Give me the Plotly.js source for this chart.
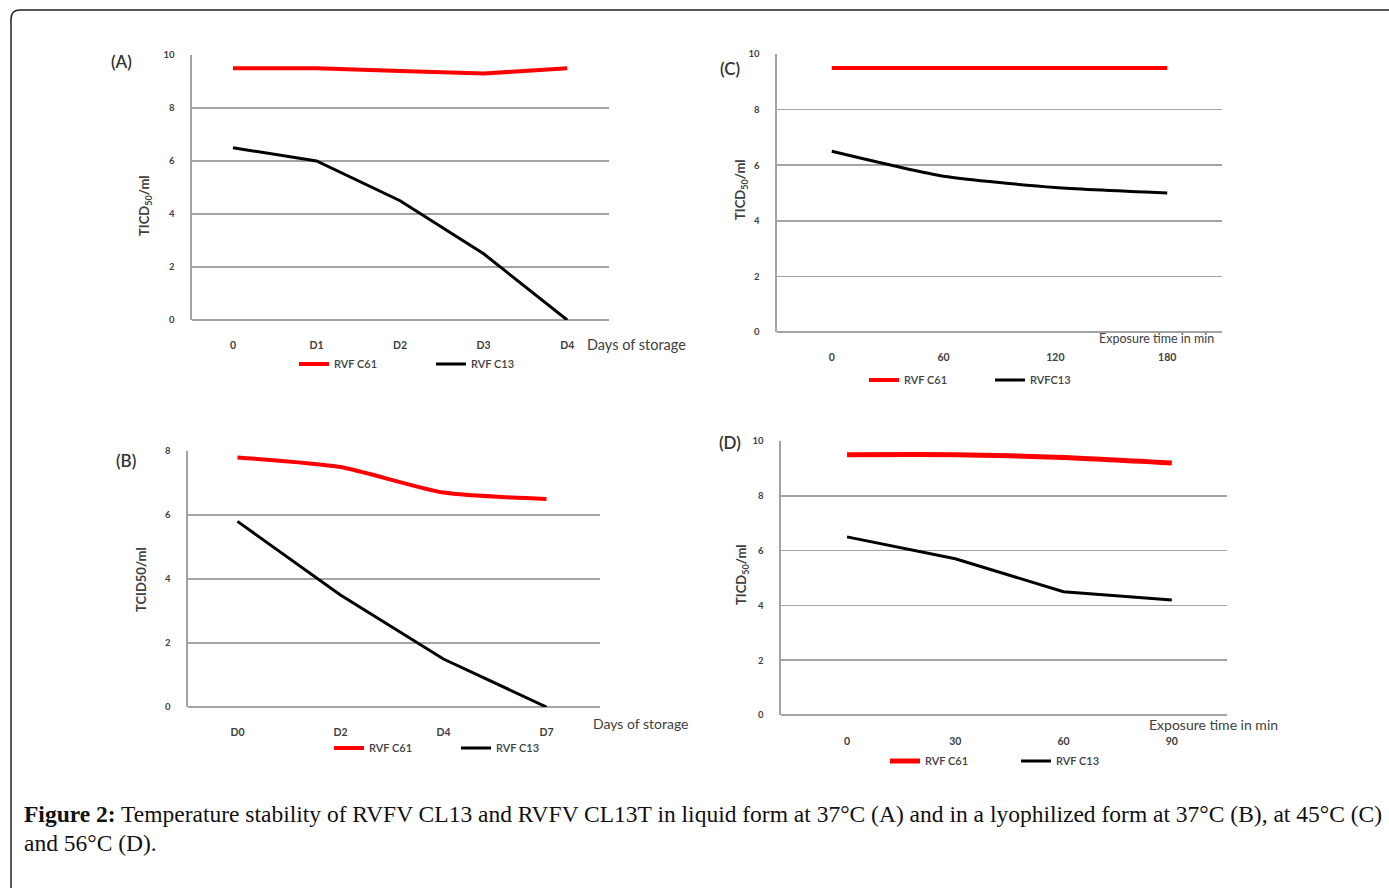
<!DOCTYPE html>
<html><head><meta charset="utf-8">
<script src="https://cdn.plot.ly/plotly-3.0.1.min.js"></script>
<style>body{margin:0;background:#fff}#chart{width:1389px;height:888px}</style>
</head><body><div id="chart"></div>
<script>
// ---- data ----
const catsA = ['0','D1','D2','D3','D4'];
const a_c61 = [9.5,9.5,9.4,9.3,9.5];
const a_c13 = [6.5,6.0,4.5,2.5,0];
const catsB = ['D0','D2','D4','D7'];
const b_c61 = [7.8,7.5,6.7,6.5];
const b_c13 = [5.8,3.5,1.5,0];
const catsC = ['0','60','120','180'];
const c_c61 = [9.5,9.5,9.5,9.5];
const c_c13 = [6.5,5.6,5.2,5.0];
const catsD = ['0','30','60','90'];
const d_c61 = [9.5,9.5,9.4,9.2];
const d_c13 = [6.5,5.7,4.5,4.2];
const nameA1 = 'RVF C61', nameA2 = 'RVF C13';
const nameC2 = 'RVFC13';

// ---- layout helpers ----
const W = 1389, H = 888;
const px = x => x / W;
const py = y => 1 - y / H;
const GRID = '#a3a3a3';
const TXT = '#404040';
const FONT = 'Lato, "Open Sans", sans-serif';

function xax(x0, x1, yref, lo, hi, so) {
  return {domain:[px(x0), px(x1)], anchor:yref, type:'category', range:[lo, hi],
    showgrid:false, zeroline:false, showline:false, ticks:'',
    tickfont:{family:FONT, size:10.5, color:TXT, weight:700}, ticklabelstandoff:so, fixedrange:true};
}
function yax(y0, y1, xref, top) {
  return {domain:[py(y1), py(y0)], anchor:xref, range:[0, top], dtick:2, tick0:0,
    showgrid:true, gridcolor:GRID, gridwidth:1.6, zeroline:true, zerolinecolor:GRID, zerolinewidth:1.6,
    showline:true, linecolor:GRID, linewidth:1.6, ticks:'',
    tickfont:{family:FONT, size:9.5, color:TXT, weight:700}, ticklabelstandoff:14, fixedrange:true};
}
function tr(x, y, name, color, width, xa, ya, leg, shape) {
  return {x:x, y:y, name:name, type:'scatter', mode:'lines', xaxis:xa, yaxis:ya, legend:leg,
    line:{color:color, width:width, shape:shape||'linear', smoothing:0.6}, hoverinfo:'skip'};
}

const data = [
  tr(catsA, a_c61, nameA1, '#ff0000', 4, 'x', 'y', 'legend'),
  tr(catsA, a_c13, nameA2, '#000000', 3, 'x', 'y', 'legend'),
  tr(catsB, b_c61, nameA1, '#ff0000', 4, 'x2', 'y2', 'legend2', 'spline'),
  tr(catsB, b_c13, nameA2, '#000000', 3, 'x2', 'y2', 'legend2'),
  tr(catsC, c_c61, nameA1, '#ff0000', 4, 'x3', 'y3', 'legend3'),
  tr(catsC, c_c13, nameC2, '#000000', 3, 'x3', 'y3', 'legend3', 'spline'),
  tr(catsD, d_c61, nameA1, '#ff0000', 5, 'x4', 'y4', 'legend4', 'spline'),
  tr(catsD, d_c13, nameA2, '#000000', 3, 'x4', 'y4', 'legend4')
];

function leg(x, y, ew) {
  return {x:px(x), y:py(y), xanchor:'left', yanchor:'middle', orientation:'h',
    entrywidth:ew, entrywidthmode:'pixels', bgcolor:'rgba(0,0,0,0)', itemwidth:30,
    font:{family:FONT, size:11, color:TXT, weight:600}, itemclick:false, itemdoubleclick:false};
}
function ann(text, x, y, size, opts) {
  return Object.assign({text:text, x:px(x), y:py(y), xref:'paper', yref:'paper', showarrow:false,
    xanchor:'left', yanchor:'middle', font:{family:FONT, size:size, color:TXT}}, opts||{});
}
const yt = (text, x, y) => ann(text, x, y, 13, {xanchor:'center', textangle:-90, font:{family:FONT, size:13, color:TXT, weight:700}});
const lab = (text, x, y) => ann(text, x, y, 17, {font:{family:FONT, size:17, color:'#333', weight:600}});
const serif = {family:'"Liberation Serif", "DejaVu Serif", serif', size:23.5, color:'#111'};

const r = 9;
const border = 'M ' + px(11) + ',' + py(900) + ' L ' + px(11) + ',' + py(10 + r) +
  ' Q ' + px(11) + ',' + py(10) + ' ' + px(11 + r) + ',' + py(10) + ' L ' + px(1400) + ',' + py(10);

const layout = {
  width:W, height:H, autosize:false, margin:{l:0, r:0, t:0, b:0},
  paper_bgcolor:'#fff', plot_bgcolor:'#fff', showlegend:true,
  xaxis: xax(192, 609, 'y', -0.49, 4.5, 17),
  yaxis: yax(55, 320, 'x', 10),
  xaxis2: xax(188, 600, 'y2', -0.48, 3.52, 17),
  yaxis2: yax(451, 707, 'x2', 8),
  xaxis3: xax(777, 1222, 'y3', -0.49, 3.49, 17),
  yaxis3: yax(54, 332, 'x3', 10),
  xaxis4: xax(781, 1227, 'y4', -0.61, 3.51, 18),
  yaxis4: yax(441, 715, 'x4', 10),
  legend: leg(294, 364, 92),
  legend2: leg(329, 748, 82),
  legend3: leg(864, 380, 81),
  legend4: leg(885, 761, 86),
  shapes:[{type:'path', xref:'paper', yref:'paper', path:border, line:{color:'#222', width:1.5}}],
  annotations:[
    lab('(A)', 109, 62),
    lab('(B)', 114, 460),
    lab('(C)', 718, 68),
    lab('(D)', 717, 443),
    yt('TICD<sub>50</sub>/ml', 145, 206),
    yt('TCID50/ml', 141, 580),
    yt('TICD<sub>50</sub>/ml', 741, 190),
    yt('TICD<sub>50</sub>/ml', 742, 575),
    ann('Days of storage', 585, 344, 14.5),
    ann('Days of storage', 591, 723, 14),
    ann('Exposure time in min', 1097, 338, 12.5),
    ann('Exposure time in min', 1147, 724, 14),
    ann('<b>Figure 2:</b> Temperature stability of RVFV CL13 and RVFV CL13T in liquid form at 37°C (A) and in a lyophilized form at 37°C (B), at 45°C (C)', 22, 814, 23.5, {font:serif}),
    ann('and 56°C (D).', 22, 843, 23.5, {font:serif})
  ]
};

Plotly.newPlot('chart', data, layout, {displayModeBar:false, staticPlot:true});
</script>
</body></html>
